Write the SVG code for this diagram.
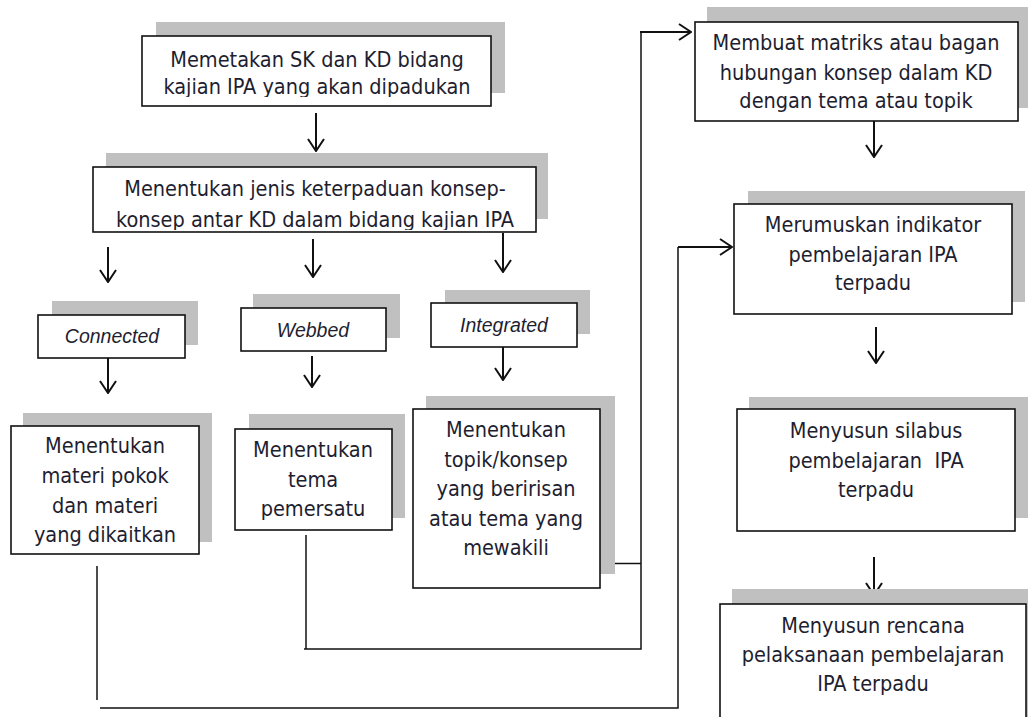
<svg xmlns="http://www.w3.org/2000/svg" width="1028" height="717" viewBox="0 0 1028 717">
<style>
.sh{fill:#c0c0c0;stroke:none}
.bx{fill:#fff;stroke:#111;stroke-width:1.6}
.t{font-family:"DejaVu Sans Condensed","DejaVu Sans",sans-serif;font-size:21.5px;fill:#1e1e30;text-anchor:middle}
.it{font-family:"Liberation Sans",Arial,sans-serif;font-style:italic;font-size:19.5px;fill:#1e1e30;text-anchor:middle}
.ar{stroke:#111;stroke-width:2;fill:none;marker-end:url(#ah)}
.ln{stroke:#111;stroke-width:1.5;fill:none}
</style>
<defs>
<marker id="ah" markerUnits="userSpaceOnUse" viewBox="0 0 15 18" refX="14" refY="9" markerWidth="15" markerHeight="18" orient="auto">
<path d="M2,1 L14,9 L2,17" fill="none" stroke="#111" stroke-width="2"/>
</marker>
<clipPath id="c1"><rect x="142" y="36" width="349" height="61"/></clipPath>
<clipPath id="c2"><rect x="93" y="167" width="443" height="63"/></clipPath>
<clipPath id="c3"><rect x="11" y="426" width="188" height="120"/></clipPath>
<clipPath id="c4"><rect x="695" y="22" width="323" height="90"/></clipPath>
</defs>
<rect width="1028" height="717" fill="#fff"/>

<g id="connectors">
<line class="ar" x1="316" y1="113" x2="316" y2="151"/>
<line class="ar" x1="108" y1="247" x2="108" y2="282"/>
<line class="ar" x1="313" y1="239" x2="313" y2="277"/>
<line class="ar" x1="503" y1="233" x2="503" y2="272"/>
<line class="ar" x1="108" y1="358" x2="108" y2="393"/>
<line class="ar" x1="312" y1="356" x2="312" y2="387"/>
<line class="ar" x1="503" y1="347" x2="503" y2="380"/>
<line class="ar" x1="874" y1="121" x2="874" y2="157"/>
<line class="ar" x1="876" y1="327" x2="876" y2="363"/>
<line class="ar" x1="874" y1="557" x2="874" y2="595"/>
<polyline class="ln" points="97,566 97,700"/>
<polyline class="ln" points="100,708 678,708 678,247"/>
<line class="ar" x1="678" y1="247" x2="732" y2="247"/>
<polyline class="ln" points="306,535 306,649"/>
<polyline class="ln" points="304,649 641,649 641,32"/>
<line class="ar" x1="640" y1="32" x2="691" y2="32"/>
<line class="ln" x1="600" y1="563.5" x2="641" y2="563.5"/>
</g>

<g id="n1">
<rect class="sh" x="156" y="22" width="349" height="71"/>
<rect class="bx" x="142" y="36" width="349" height="70"/>
<g clip-path="url(#c1)">
<text class="t" x="317" y="67">Memetakan SK dan KD bidang</text>
<text class="t" x="317" y="94">kajian IPA yang akan dipadukan</text>
</g>
</g>

<g id="n2">
<rect class="sh" x="106" y="153" width="442" height="66"/>
<rect class="bx" x="93" y="167" width="443" height="65"/>
<g clip-path="url(#c2)">
<text class="t" x="315" y="196">Menentukan jenis keterpaduan konsep-</text>
<text class="t" x="315" y="227">konsep antar KD dalam bidang kajian IPA</text>
</g>
</g>

<g id="n3">
<rect class="sh" x="52" y="301" width="146" height="44"/>
<rect class="bx" x="38" y="315" width="147" height="43"/>
<text class="it" x="112" y="343">Connected</text>
</g>

<g id="n4">
<rect class="sh" x="253" y="294" width="147" height="44"/>
<rect class="bx" x="241" y="308" width="145" height="43"/>
<text class="it" x="313" y="337">Webbed</text>
</g>

<g id="n5">
<rect class="sh" x="445" y="290" width="145" height="44"/>
<rect class="bx" x="431" y="303" width="146" height="44"/>
<text class="it" x="504" y="332">Integrated</text>
</g>

<g id="n6">
<rect class="sh" x="23" y="413" width="189" height="129"/>
<rect class="bx" x="11" y="426" width="188" height="128"/>
<g clip-path="url(#c3)">
<text class="t" x="105" y="453">Menentukan</text>
<text class="t" x="105" y="483">materi pokok</text>
<text class="t" x="105" y="513">dan materi</text>
<text class="t" x="105" y="542">yang dikaitkan</text>
</g>
</g>

<g id="n7">
<rect class="sh" x="249" y="414" width="156" height="104"/>
<rect class="bx" x="235" y="429" width="157" height="101"/>
<text class="t" x="313" y="457">Menentukan</text>
<text class="t" x="313" y="487">tema</text>
<text class="t" x="313" y="516">pemersatu</text>
</g>

<g id="n8">
<rect class="sh" x="426" y="396" width="189" height="178"/>
<rect class="bx" x="413" y="409" width="187" height="179"/>
<text class="t" x="506" y="437">Menentukan</text>
<text class="t" x="506" y="467">topik/konsep</text>
<text class="t" x="506" y="496">yang beririsan</text>
<text class="t" x="506" y="526">atau tema yang</text>
<text class="t" x="506" y="555">mewakili</text>
</g>

<g id="n9">
<rect class="sh" x="707" y="7" width="321" height="101"/>
<rect class="bx" x="695" y="22" width="323" height="99"/>
<g clip-path="url(#c4)">
<text class="t" x="856" y="50">Membuat matriks atau bagan</text>
<text class="t" x="856" y="80">hubungan konsep dalam KD</text>
<text class="t" x="856" y="108">dengan tema atau topik</text>
</g>
</g>

<g id="n10">
<rect class="sh" x="748" y="191" width="277" height="111"/>
<rect class="bx" x="734" y="204" width="278" height="110"/>
<text class="t" x="873" y="232">Merumuskan indikator</text>
<text class="t" x="873" y="262">pembelajaran IPA</text>
<text class="t" x="873" y="290">terpadu</text>
</g>

<g id="n11">
<rect class="sh" x="749" y="397" width="279" height="121"/>
<rect class="bx" x="737" y="409" width="278" height="122"/>
<text class="t" x="876" y="438">Menyusun silabus</text>
<text class="t" x="876" y="468" xml:space="preserve">pembelajaran  IPA</text>
<text class="t" x="876" y="497">terpadu</text>
</g>

<g id="n12">
<rect class="sh" x="732" y="589" width="300" height="140"/>
<rect class="bx" x="720" y="604" width="306" height="130"/>
<text class="t" x="873" y="633">Menyusun rencana</text>
<text class="t" x="873" y="662">pelaksanaan pembelajaran</text>
<text class="t" x="873" y="691">IPA terpadu</text>
</g>
</svg>
